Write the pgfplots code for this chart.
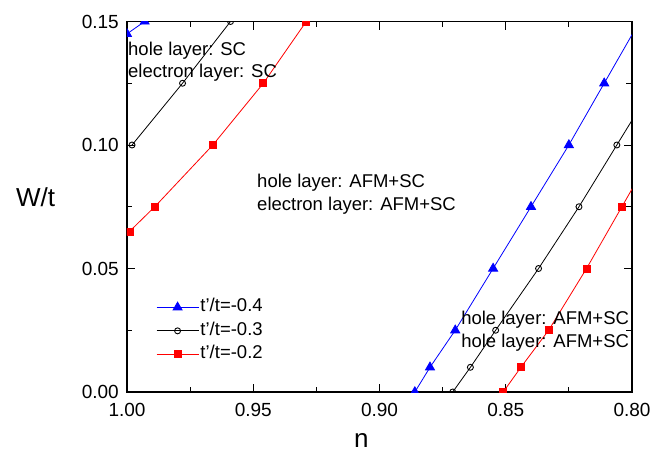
\documentclass[border=0pt]{standalone}
\usepackage{fontspec}
\setmainfont{Liberation Sans}
\usepackage{pgfplots}
\pgfplotsset{compat=1.18}

\begin{document}
\begin{tikzpicture}
\begin{axis}[
  name=ax,
  scale only axis, width=505pt, height=370.5pt,
  x dir=reverse,
  xmin=0.80, xmax=1.00, ymin=0, ymax=0.15,
  xtick={0.80,0.85,0.90,0.95,1.00},
  ytick={0,0.05,0.10,0.15},
  minor x tick num=1, minor y tick num=1,
  tick align=inside,
  major tick length=8pt, minor tick length=5.5pt,
  axis line style={line width=1.2pt},
  tick style={line width=1pt, black},
  clip marker paths=true,
  /pgf/number format/fixed,
  /pgf/number format/fixed zerofill,
  /pgf/number format/precision=2,
  /pgf/number format/assume math mode=true,
  ticklabel style={font=\fontsize{19}{22}\selectfont},
  xticklabel style={inner sep=0pt, yshift=-11pt},
  yticklabel style={inner sep=0pt, xshift=-8pt},
  xlabel={n}, ylabel={W/t},
  xlabel style={at={(axis description cs:0.464,-0.132)}, anchor=center, font=\fontsize{26}{30}\selectfont},
  ylabel style={at={(axis description cs:-0.181,0.525)}, anchor=center, rotate=-90, font=\fontsize{26}{30}\selectfont},
  legend image code/.code={\draw[mark repeat=2,mark phase=2] plot coordinates {(0pt,0pt) (21pt,0pt) (42pt,0pt)};},
  legend style={at={(axis description cs:0.0574,0.256)}, anchor=north west, draw=none, fill=none,
    inner sep=0pt, row sep=3.5pt, column sep=0pt,
    font=\fontsize{18.5}{22}\selectfont,
    nodes={inner sep=1.5pt, text height=13pt, text depth=4pt}},
  legend cell align=left,
]
% t'/t = -0.4
\addplot[blue, line width=0.8pt, mark=triangle*, mark size=5.2pt, mark options={fill=blue}]
  coordinates {(0.886,0) (0.880,0.01) (0.870,0.025) (0.855,0.05) (0.840,0.075) (0.825,0.1) (0.811,0.125) (0.797,0.15)};
\addlegendentry{t'/t=-0.4}
% t'/t = -0.3
\addplot[black, line width=0.8pt, mark=o, mark size=3pt, mark options={fill=white, line width=0.9pt}]
  coordinates {(0.871,0) (0.864,0.01) (0.854,0.025) (0.837,0.05) (0.821,0.075) (0.806,0.1) (0.791,0.125)};
\addlegendentry{t'/t=-0.3}
% t'/t = -0.2
\addplot[red, line width=0.8pt, mark=square*, mark size=3.5pt, mark options={fill=red}]
  coordinates {(0.851,0) (0.844,0.01) (0.833,0.025) (0.818,0.05) (0.804,0.075) (0.790,0.1)};
\addlegendentry{t'/t=-0.2}

% left-hand boundaries
\addplot[blue, line width=0.8pt, mark=triangle*, mark size=5.2pt, mark options={fill=blue}, forget plot]
  coordinates {(1.000,0.145) (0.993,0.15)};
\addplot[black, line width=0.8pt, mark=o, mark size=3pt, mark options={fill=white, line width=0.9pt}, forget plot]
  coordinates {(0.998,0.1) (0.978,0.125) (0.959,0.15)};
\addplot[red, line width=0.8pt, mark=square*, mark size=3.5pt, mark options={fill=red}, forget plot]
  coordinates {(0.999,0.065) (0.989,0.075) (0.966,0.1) (0.946,0.125) (0.929,0.15)};

\node[anchor=base west, inner sep=0pt, font=\fontsize{18.5}{22}\selectfont] at (axis cs:0.9996,0.1364) {hole layer: SC};
\node[anchor=base west, inner sep=0pt, font=\fontsize{18.5}{22}\selectfont] at (axis cs:0.9996,0.1274) {electron layer: SC};
\node[anchor=base west, inner sep=0pt, font=\fontsize{18.5}{22}\selectfont] at (axis cs:0.9485,0.0827) {hole layer: AFM+SC};
\node[anchor=base west, inner sep=0pt, font=\fontsize{18.5}{22}\selectfont] at (axis cs:0.9485,0.0734) {electron layer: AFM+SC};
\node[anchor=base west, inner sep=0pt, font=\fontsize{18.5}{22}\selectfont] at (axis cs:0.8677,0.0272) {hole layer: AFM+SC};
\node[anchor=base west, inner sep=0pt, font=\fontsize{18.5}{22}\selectfont] at (axis cs:0.8677,0.0179) {hole layer: AFM+SC};
\end{axis}
\pgfresetboundingbox
\path ([xshift=-127pt,yshift=-61pt]ax.south west) rectangle ([xshift=35pt,yshift=21.5pt]ax.north east);
\end{tikzpicture}
\end{document}
